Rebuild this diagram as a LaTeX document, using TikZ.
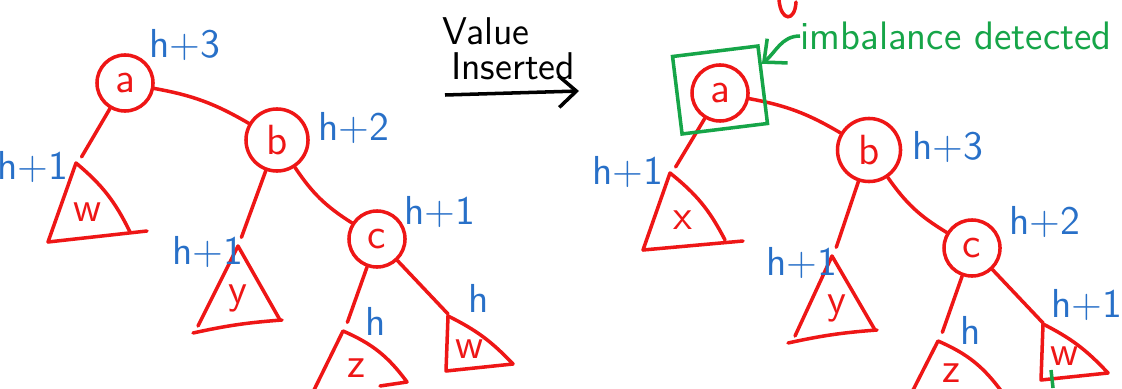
\documentclass[tikz,border=0pt]{standalone}
\usepackage{tikz}
\usetikzlibrary{arrows.meta}
\definecolor{penred}{RGB}{238,22,22}
\definecolor{penblue}{RGB}{40,112,200}
\definecolor{pengreen}{RGB}{22,165,72}

\begin{document}
\begin{tikzpicture}[x=0.01cm,y=-0.01cm,
  tnode/.style={circle,draw=penred,line width=1pt,text=penred,minimum size=0.56cm,inner sep=0pt,font=\sffamily\large},
  edge/.style={draw=penred,line width=1pt,line cap=round},
  tri/.style={draw=penred,line width=1pt,line cap=round,line join=round},
  tlab/.style={text=penred,font=\sffamily\large},
  hlab/.style={text=penblue,font=\sffamily\fontsize{11.5}{13}\selectfont},
  note/.style={font=\sffamily\fontsize{11}{13}\selectfont}]
  \useasboundingbox (0,0) rectangle (1122,388);

  % ---- Before insertion ----
  \node[tnode] (aL) at (125,83) {a};
  \node[tnode,minimum size=0.62cm] (bL) at (277,140) {b};
  \node[tnode] (cL) at (377,239) {c};
  \coordinate (wLtop) at (78,163);
  \coordinate (yLtop) at (239,244);
  \coordinate (zLtop) at (345,329);
  \coordinate (vLtop) at (448,314);
  \draw[edge] (aL) to[bend left=10] (bL);
  \draw[edge] (bL) to[bend right=12] (cL);
  \draw[edge,shorten >=2pt] (aL) -- (wLtop);
  \draw[edge,shorten >=2pt] (bL) -- (yLtop);
  \draw[edge,shorten >=2pt] (cL) -- (zLtop);
  \draw[edge] (cL) -- (vLtop);
  % subtrees
  \draw[tri] (48,242) -- (76,163) to[bend left=12] (130,232);
  \draw[tri] (48,242) -- (147,231);
  \draw[tri] (198,326) -- (238,246) -- (280,320);
  \draw[tri] (193,333) to[bend left=4] (282,320);
  \draw[tri] (313,392) -- (343,331) to[bend left=15] (407,382) -- (380,386);
  \draw[tri] (448,316) -- (446,371) -- (513,364);
  \draw[tri] (448,316) to[bend left=10] (513,364);
  \node[tlab] (wL) at (88,212) {w};
  \node[tlab] (yL) at (238,298) {y};
  \node[tlab] (zL) at (356,368) {z};
  \node[tlab] (vL) at (470,349) {w};
  % heights
  \node[hlab] at (185,45) {h+3};
  \node[hlab] at (354,128) {h+2};
  \node[hlab] at (440,212) {h+1};
  \node[hlab] at (33,167) {h+1};
  \node[hlab] at (208,252) {h+1};
  \node[hlab] at (376,321) {h};
  \node[hlab] at (479,298) {h};

  % ---- Value inserted ----
  \node[note] (val) at (486,31) {Value};
  \node[note] (ins) at (513,66) {Inserted};
  \coordinate (ulL) at (445,95);
  \coordinate (ulR) at (579,91);
  \draw[line width=1pt,-{Straight Barb[length=5pt,width=9pt]}] (ulL) -- (ulR);

  % ---- After insertion ----
  \node[tnode] (aR) at (720,93) {a};
  \node[tnode,minimum size=0.63cm] (bR) at (869,150) {b};
  \node[tnode] (cR) at (972,248) {c};
  \coordinate (xRtop) at (672,173);
  \coordinate (yRtop) at (834,254);
  \coordinate (zRtop) at (940,339);
  \coordinate (vRtop) at (1043,323);
  \draw[edge] (aR) to[bend left=10] (bR);
  \draw[edge] (bR) to[bend right=12] (cR);
  \draw[edge,shorten >=2pt] (aR) -- (xRtop);
  \draw[edge,shorten >=2pt] (bR) -- (yRtop);
  \draw[edge,shorten >=2pt] (cR) -- (zRtop);
  \draw[edge] (cR) -- (vRtop);
  % subtrees
  \draw[tri] (643,250) -- (670,173) to[bend left=12] (725,240);
  \draw[tri] (643,250) -- (743,241);
  \draw[tri] (795,336) -- (832,256) -- (875,330);
  \draw[tri] (788,343) to[bend left=4] (877,330);
  \draw[tri] (910,396) -- (938,341) to[bend left=15] (1002,392);
  \draw[tri] (1043,324) -- (1041,380) -- (1108,373);
  \draw[tri] (1043,324) to[bend left=10] (1108,373);
  \node[tlab] (xR) at (683,220) {x};
  \node[tlab] (yR) at (837,308) {y};
  \node[tlab] (zR) at (951,373) {z};
  \node[tlab] (vR) at (1065,356) {w};
  % heights
  \node[hlab] at (948,147) {h+3};
  \node[hlab] at (1045,222) {h+2};
  \node[hlab] at (628,172) {h+1};
  \node[hlab] at (802,263) {h+1};
  \node[hlab] at (971,330) {h};
  \node[hlab] at (1087,305) {h+1};

  % ---- imbalance ----
  \node[draw=pengreen,line width=1pt,rotate=7,minimum width=0.86cm,minimum height=0.78cm] (box) at (720,90) {};
  \node[note,text=pengreen,anchor=west,inner sep=0pt,font=\sffamily\fontsize{11.3}{13}\selectfont] (imb) at (800,36) {imbalance detected};
  \draw[pengreen,line width=1pt,-{Straight Barb[length=5pt,width=9pt]}] (imb.west) to[out=180,in=40] (box.25);
  \draw[pengreen,line width=1pt] (1051,370) -- (1053,388);
  \draw[edge] (779,0) .. controls (781,22) and (795,22) .. (796,2);
\end{tikzpicture}
\end{document}
